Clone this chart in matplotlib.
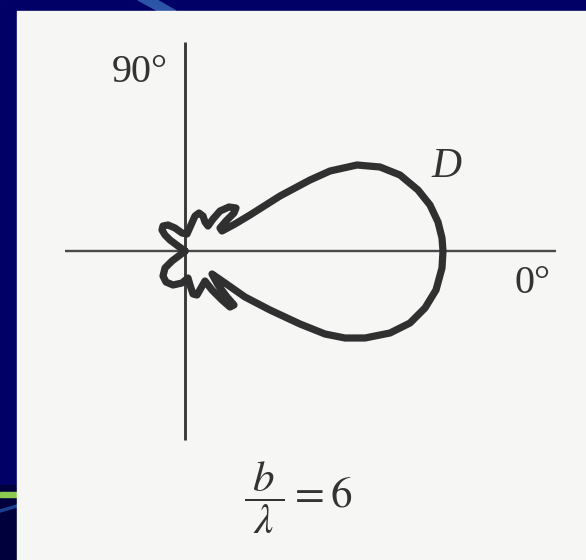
import numpy as np
import matplotlib
matplotlib.use("Agg")
import matplotlib.pyplot as plt
from matplotlib.patches import Rectangle, Polygon

# pattern D, offsets from the axis crossing (x right, y up)
upper_x = [0, -7, -15, -20, -23, -22, -17, -10, -3, 2,
           6, 10, 14, 18, 20, 23,
           28, 35, 44, 51, 49, 41, 35, 37,
           50, 65, 95, 125, 145, 172, 195, 215, 233, 245, 253, 257, 258]
upper_y = [0, 5, 11, 16, 21, 25, 26, 23, 18, 17,
           26, 35, 38, 35, 29, 25,
           32, 40, 44, 43, 38, 30, 23, 20,
           27, 36, 55, 71, 80, 86, 84, 76, 61, 46, 29, 13, 0]
lower_x = [257, 251, 240, 225, 205, 180, 160, 140, 115, 85, 60, 40, 27,
           33, 42, 49, 45, 37, 27, 20,
           16, 12, 8, 5, 3,
           -3, -12, -19, -22, -20, -13, -5, 0]
lower_y = [-17, -39, -57, -72, -82, -87, -87, -83, -73, -59, -46, -32, -23,
           -34, -46, -54, -56, -49, -39, -30,
           -37, -44, -43, -34, -27,
           -32, -34, -31, -25, -17, -10, -4, 0]

# axis extents (same units)
h_axis = [-120, 371]
v_axis = [-189, 209]

W, H = 586, 560
ox, oy = 185, 251   # axis crossing in the picture

plt.rcParams["mathtext.fontset"] = "stix"

fig = plt.figure(figsize=(W / 100, H / 100), dpi=100)

# background: slide template + scanned page
bg = fig.add_axes([0, 0, 1, 1])
bg.set_xlim(0, W)
bg.set_ylim(H, 0)
bg.axis("off")
bg.add_patch(Rectangle((0, 0), W, H, color="#000066", zorder=0))
bg.add_patch(Rectangle((0, 485), 17, H - 485, color="#00003d", zorder=1))
bg.add_patch(Polygon([(138, 0), (157, 0), (176, 11), (158, 11)], closed=True,
                     color="#2c55a8", zorder=1))
bg.add_patch(Rectangle((0, 492), 17, 5, color="#8dc850", zorder=2))
bg.plot([0, 17], [511, 506], color="#1d3f8e", lw=2.5, zorder=2)
bg.add_patch(Rectangle((17, 11), W - 17, H - 11, color="#f6f6f4", zorder=3))

# the diagram itself
ax = fig.add_axes([0, 0, 1, 1])
ax.set_xlim(-ox, W - ox)
ax.set_ylim(-(H - oy), oy)
ax.axis("off")
ax.patch.set_alpha(0)

ax.plot(h_axis, [0, 0], color="#4a4a4a", lw=1.7, solid_capstyle="butt")
ax.plot([0, 0], v_axis, color="#3a3a3a", lw=2.1, solid_capstyle="butt")

xs = upper_x + lower_x
ys = upper_y + lower_y
ax.plot(xs, ys, color="#303030", lw=5.2, solid_joinstyle="round",
        solid_capstyle="round")

serif = "Liberation Serif"
ax.text(112 - ox, oy - 82, "90°", fontsize=29, family=serif, color="#333333",
        ha="left", va="baseline")
ax.text(514 - ox, oy - 293, "0°", fontsize=29, family=serif, color="#333333",
        ha="left", va="baseline")
ax.text(431 - ox, oy - 177, "D", fontsize=30, family=serif, style="italic",
        color="#333333", ha="left", va="baseline")

ax.text(298 - ox, oy - 498, r"$\dfrac{\;b\;}{\;\lambda\;}{=}6$", fontsize=31,
        color="#333333", ha="center", va="center")

fig.savefig("out.png", dpi=100)
